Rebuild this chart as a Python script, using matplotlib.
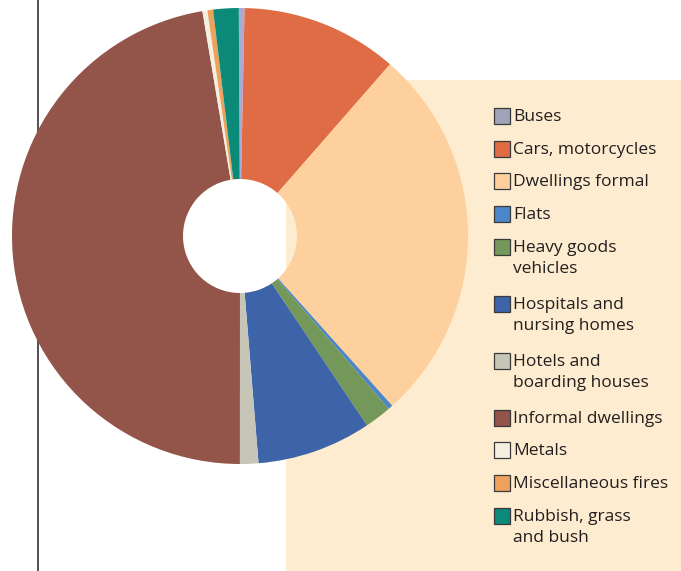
import matplotlib
matplotlib.use("Agg")
import matplotlib.pyplot as plt
from matplotlib.patches import Rectangle

# fire categories (share of incidents, %)
categories = [
    "Buses",
    "Cars, motorcycles",
    "Dwellings formal",
    "Flats",
    "Heavy goods\nvehicles",
    "Hospitals and\nnursing homes",
    "Hotels and\nboarding houses",
    "Informal dwellings",
    "Metals",
    "Miscellaneous fires",
    "Rubbish, grass\nand bush",
]
shares = [0.4, 11.1, 26.9, 0.33, 1.9, 8.1, 1.3, 47.3, 0.35, 0.4, 1.8]
colors = [
    "#aaaad6", "#e06c45", "#fdd09e", "#4a86c8", "#74985a", "#3d63a8",
    "#c6c5b8", "#93544a", "#f4efe0", "#eea15b", "#0b8a7a",
]
legend_colors = [
    "#a0a4b8", "#e06c45", "#fdd09e", "#4a86c8", "#74985a", "#3d63a8",
    "#c6c5b8", "#93544a", "#f4efe0", "#eea15b", "#0b8a7a",
]

W, H = 681, 571
fig = plt.figure(figsize=(W / 100, H / 100), dpi=100)
ax = fig.add_axes([0, 0, 1, 1])

# pie in pixel units, y measured up from the bottom
cx, cy, r = 240, H - 236, 228
ax.pie(
    shares,
    colors=colors,
    startangle=90.3,
    counterclock=False,
    center=(cx, cy),
    radius=r,
    wedgeprops=dict(width=r - 57, linewidth=0),
)

ax.add_patch(Rectangle((286, 0), W - 286, H - 80, facecolor="#fdecd0",
                       edgecolor="none", zorder=0))
ax.plot([38, 38], [0, H], color="#333333", lw=1.2, zorder=0.5)

# legend
top = 108
for label, col in zip(categories, legend_colors):
    ax.add_patch(Rectangle((494, H - top - 16), 16, 16, facecolor=col,
                           edgecolor="#3a3a3a", lw=0.9, zorder=3))
    ax.text(513, H - top - 1, label, fontsize=12.5, family="Open Sans",
            color="#231f20", va="top", ha="left", linespacing=1.42,
            zorder=3)
    nlines = label.count("\n") + 1
    top += 32.7 + 24.3 * (nlines - 1)

ax.set_xlim(0, W)
ax.set_ylim(0, H)
ax.set_aspect("auto")
ax.axis("off")

fig.savefig("out.png", dpi=100)
